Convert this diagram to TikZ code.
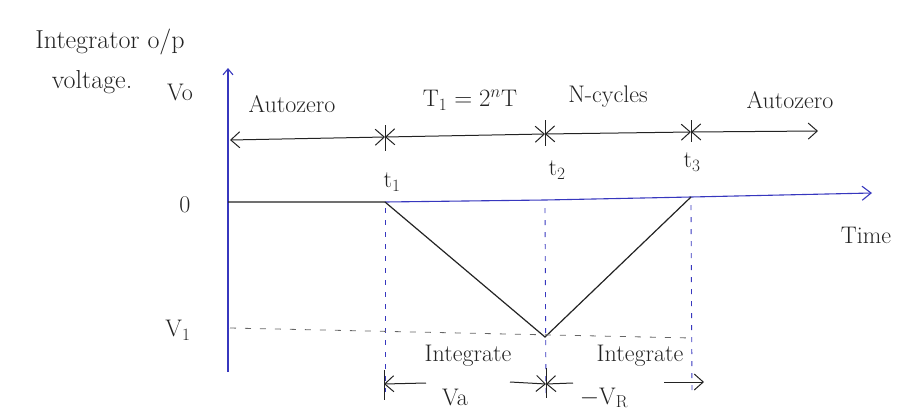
\documentclass[tikz,border=0pt]{standalone}
\usetikzlibrary{arrows.meta}
\definecolor{axblue}{RGB}{55,55,190}
\definecolor{ink}{RGB}{35,35,35}
\begin{document}
\begin{tikzpicture}[x=1pt,y=-1pt,font=\fontsize{24}{28}\selectfont,
  axis/.style={draw=axblue,line width=1.1pt},
  sig/.style={draw=ink,line width=1.2pt},
  vguide/.style={draw=axblue,line width=0.9pt,dash pattern=on 5pt off 7pt},
  hguide/.style={draw=ink!70,line width=0.8pt,dash pattern=on 6pt off 9pt},
  dimline/.style={draw=ink,line width=1pt},
  tick/.style={draw=ink,line width=1pt},
  barb/.style={-{Straight Barb[length=9pt,width=16pt]}},
  lbl/.style={text=ink,inner sep=1pt},
  ttl/.style={text=ink,inner sep=1pt,font=\fontsize{26}{30}\selectfont}]
\useasboundingbox (0,0) rectangle (914,413);
% key points
\coordinate (O) at (228,202);
\coordinate (Ytop) at (228,68);
\coordinate (Ybot) at (228,372);
\coordinate (T1) at (385,202);
\coordinate (Tmin) at (545,337);
\coordinate (T2a) at (545,200);
\coordinate (T3) at (691,197);
\coordinate (Tend) at (872,193);
\coordinate (V1a) at (230,328);
\coordinate (V1b) at (691,338);
% axes
\draw[axis,-{Straight Barb[length=6pt,width=10pt]}] (Ybot) -- (Ytop);
\draw[axis,-{Straight Barb[length=9pt,width=14pt]}] (T1) -- (T2a) -- (T3) -- (Tend);
% signal
\draw[sig] (O) -- (T1) -- (Tmin) -- (T3);
% guides
\coordinate (G1) at (385,392);
\coordinate (G2) at (546,395);
\coordinate (G3) at (692,390);
\draw[vguide] (T1) ++(0,6) -- (G1);
\draw[vguide] (T2a) ++(0,8) -- (G2);
\draw[vguide] (T3) ++(0,8) -- (G3);
\draw[hguide] (V1a) -- (V1b);
% top dimension line
\coordinate (A0) at (230,140);
\coordinate (A1) at (385,137);
\coordinate (A2) at (545,134);
\coordinate (A3) at (691,132);
\coordinate (A4) at (818,131);
\draw[dimline,{Straight Barb[length=9pt,width=16pt]}-{Straight Barb[length=9pt,width=16pt]}] (A0) -- (A1);
\draw[dimline,{Straight Barb[length=9pt,width=16pt]}-{Straight Barb[length=9pt,width=16pt]}] (A1) -- (A2);
\draw[dimline,{Straight Barb[length=9pt,width=16pt]}-{Straight Barb[length=9pt,width=16pt]}] (A2) -- (A3);
\draw[dimline,{Straight Barb[length=9pt,width=16pt]}-{Straight Barb[length=9pt,width=16pt]}] (A3) -- (A4);
\draw[tick] (A1) ++(0,-12) -- ++(0,26);
\draw[tick] (A2) ++(0,-14) -- ++(0,26);
\draw[tick] (A3) ++(0,-12) -- ++(0,22);
% bottom arrows
\coordinate (B0) at (384,384);
\coordinate (B1) at (546,384);
\coordinate (B2) at (704,382);
\coordinate (B0e) at (426,383);
\coordinate (B1s) at (510,382);
\coordinate (B1e) at (573,383);
\coordinate (B2s) at (664,382);
\draw[tick] (B0) ++(0,-14) -- ++(0,30);
\draw[tick] (B1) ++(0,-16) -- ++(0,30);
\draw[dimline,barb] (B0e) -- (B0);
\draw[dimline,barb] (B1s) -- (B1);
\draw[dimline,barb] (B1e) -- (B1);
\draw[dimline,barb] (B2s) -- (B2);
% labels
\node[ttl] (title1) at (110,42) {Integrator o/p};
\node[ttl] (title2) at (92,82) {voltage.};
\node[lbl] (Vo) at (180,92) {Vo};
\node[lbl] (zero) at (185,205) {0};
\node[lbl] (Vone) at (178,330) {V$_{\mathrm{1}}$};
\node[lbl] (az1) at (292,104) {Autozero};
\node[lbl] (T1lbl) at (470,100) {T$_{\mathrm{1}} = 2^{n}$T};
\node[lbl] (Ncyc) at (608,97) {N-cycles};
\node[lbl] (az2) at (790,100) {Autozero};
\node[lbl] (t1) at (392,182) {t$_{\mathrm{1}}$};
\node[lbl] (t2) at (557,170) {t$_{\mathrm{2}}$};
\node[lbl] (t3) at (692,162) {t$_{\mathrm{3}}$};
\node[lbl] (time) at (866,235) {Time};
\node[lbl] (int1) at (468,356) {Integrate};
\node[lbl] (int2) at (640,356) {Integrate};
\node[lbl,anchor=base] (va) at (455,405) {Va};
\node[lbl,anchor=base] (vr) at (604,404) {$-$V$_{\mathrm{R}}$};
\end{tikzpicture}
\end{document}
